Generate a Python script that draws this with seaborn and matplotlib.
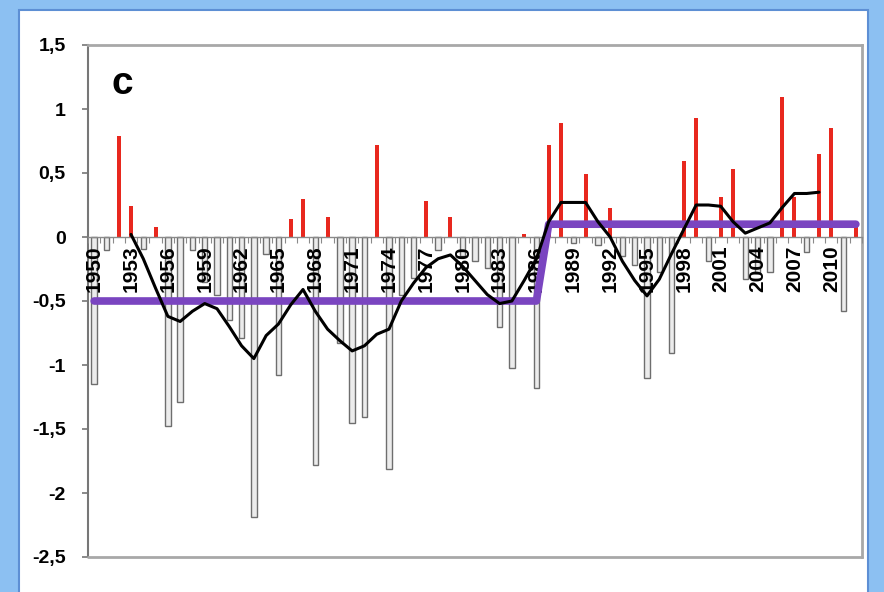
import numpy as np
import pandas as pd
import matplotlib
matplotlib.use("Agg")
import matplotlib.pyplot as plt
import seaborn as sns
from matplotlib.patches import Rectangle
from matplotlib.ticker import FixedLocator

# ---------------- data ----------------
years = list(range(1950, 2013))
values = [
    -1.15, -0.10, 0.79, 0.24, -0.09, 0.08, -1.48, -1.29, -0.10, -0.35,   # 1950-1959
    -0.45, -0.65, -0.79, -2.19, -0.13, -1.08, 0.14, 0.30, -1.78, 0.16,   # 1960-1969
    -0.83, -1.45, -1.41, 0.72, -1.81, -0.45, -0.32, 0.28, -0.10, 0.16,   # 1970-1979
    -0.15, -0.19, -0.24, -0.70, -1.02, 0.02, -1.18, 0.72, 0.89, -0.05,   # 1980-1989
    0.49, -0.06, 0.23, -0.15, -0.22, -1.10, -0.27, -0.91, 0.59, 0.93,    # 1990-1999
    -0.19, 0.31, 0.53, -0.33, -0.28, -0.27, 1.09, 0.31, -0.12, 0.65,     # 2000-2009
    0.85, -0.58, 0.08,                                                   # 2010-2012
]
smooth_years = list(range(1953, 2010))
smooth_values = [
    0.02, -0.17, -0.40, -0.62, -0.66, -0.58, -0.52,                      # 1953-1959
    -0.56, -0.70, -0.85, -0.95, -0.77, -0.68, -0.53, -0.41, -0.58, -0.72,  # 1960-1969
    -0.81, -0.89, -0.85, -0.76, -0.72, -0.50, -0.36, -0.24, -0.17, -0.14,  # 1970-1979
    -0.23, -0.34, -0.45, -0.52, -0.50, -0.34, -0.17, 0.12, 0.27, 0.27,     # 1980-1989
    0.27, 0.12, 0.00, -0.19, -0.34, -0.46, -0.33, -0.13, 0.06, 0.25,       # 1990-1999
    0.25, 0.24, 0.12, 0.03, 0.07, 0.11, 0.23, 0.34, 0.34, 0.35,            # 2000-2009
]
period_means = [-0.5] * 37 + [0.1] * 26   # 1950-1986, 1987-2012
xtick_years = list(range(1950, 2011, 3))
ytick_values = [-2.5, -2, -1.5, -1, -0.5, 0, 0.5, 1, 1.5]
panel_label = "c"

# ---------------- figure ----------------
sns.set_theme(style="white")
plt.rcParams["font.family"] = ["Liberation Sans", "DejaVu Sans"]

W, H = 884, 592
fig = plt.figure(figsize=(W / 100, H / 100), dpi=100)
fig.patch.set_facecolor("#8CC0F2")
fig.patches.append(Rectangle((19 / W, -0.02), (868 - 19) / W, 1.02 - 10 / H,
                             transform=fig.transFigure, facecolor="white",
                             edgecolor="#5d8fd4", lw=1.5, zorder=-5))

ax = fig.add_axes([88 / W, 1 - 557 / H, (862 - 88) / W, (557 - 45) / H])
ax.set_zorder(2)
ax.set_facecolor("white")

df = pd.DataFrame({"year": years, "value": values})
pos = df[df["value"] > 0]
neg = df[df["value"] <= 0]

sns.barplot(data=neg, x="year", y="value", native_scale=True, width=0.45,
            color="#ececec", saturation=1, edgecolor="#6e6e6e", linewidth=1.0,
            errorbar=None, ax=ax, zorder=2)
sns.barplot(data=pos, x="year", y="value", native_scale=True, width=0.33,
            color="#E8281E", saturation=1, linewidth=0,
            errorbar=None, ax=ax, zorder=2)

sns.lineplot(x=years, y=period_means, color="#7A45C0", lw=5.5, ax=ax, zorder=3)
sns.lineplot(x=smooth_years, y=smooth_values, color="black", lw=2.2, ax=ax, zorder=4)

ax.set_xlim(1949.5, 2012.5)
ax.set_ylim(-2.5, 1.5)
ax.set_xlabel("")
ax.set_ylabel("")
ax.grid(False)

# x axis crossing at zero
ax.spines["bottom"].set_position(("data", 0))
ax.spines["bottom"].set_color("#8a8a8a")
ax.spines["bottom"].set_linewidth(1.0)
ax.spines["bottom"].set_zorder(2.5)
ax.xaxis.set_zorder(2.8)
ax.set_xticks(xtick_years)
ax.set_xticklabels([str(y) for y in xtick_years], rotation=90,
                   fontsize=15, fontweight="bold", color="black")
ax.xaxis.set_minor_locator(FixedLocator([y + 0.5 for y in range(1949, 2013)]))
ax.tick_params(axis="x", which="major", length=0, pad=6)
ax.tick_params(axis="x", which="minor", length=4, width=0.8, color="#8a8a8a",
               direction="out", bottom=True)

# y axis
ax.set_yticks(ytick_values)
ax.set_yticklabels([("%g" % v).replace(".", ",") for v in ytick_values],
                   fontsize=14, fontweight="bold", color="black")
ax.tick_params(axis="y", which="major", length=4, width=1.2, color="#777777",
               direction="out", left=True, pad=12)
ax.spines["left"].set_color("#777777")
ax.spines["left"].set_linewidth(1.5)
for s in ("top", "right"):
    ax.spines[s].set_color("#a8a8a8")
    ax.spines[s].set_linewidth(2)
# bottom border of the plot frame
ax.plot([0, 1], [0, 0], transform=ax.transAxes, color="#a8a8a8", lw=2,
        clip_on=False, zorder=5)

ax.text(0.03, 0.905, panel_label, transform=ax.transAxes, fontsize=28,
        fontweight="bold", va="baseline", ha="left", color="black")

fig.savefig("out.png", dpi=100)
